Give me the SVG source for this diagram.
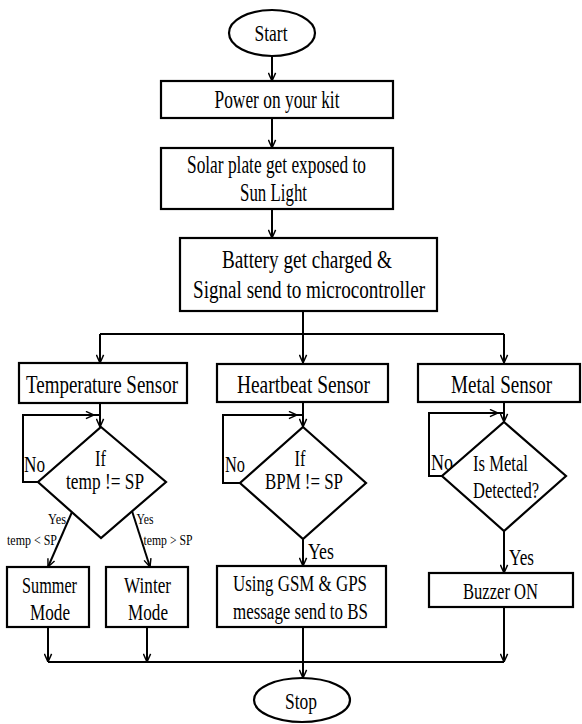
<svg xmlns="http://www.w3.org/2000/svg" width="582" height="724" viewBox="0 0 582 724">
<style>
.shape{fill:#fff;stroke:#000;stroke-width:2.2}
.con{fill:none;stroke:#000;stroke-width:2}
text{font-family:"Liberation Serif","Times New Roman",serif;fill:#000;text-anchor:middle}
.t{font-size:26px}
.m{font-size:23px}
.s{font-size:14px}
.st{text-anchor:start}
</style>
<defs>
<marker id="a" viewBox="0 0 10 10" refX="10" refY="5" markerWidth="9" markerHeight="9" markerUnits="userSpaceOnUse" orient="auto">
<path d="M1,1 L10,5 L1,9" fill="none" stroke="#000" stroke-width="1.6"/>
</marker>
</defs>
<rect width="582" height="724" fill="#fff"/>
<g id="connectors">
<path class="con" d="M272 56 V81" marker-end="url(#a)"/>
<path class="con" d="M272 118 V148" marker-end="url(#a)"/>
<path class="con" d="M272 209 V238" marker-end="url(#a)"/>
<path class="con" d="M303 311 V363" marker-end="url(#a)"/>
<path class="con" d="M100 334 H504"/>
<path class="con" d="M100 334 V363" marker-end="url(#a)"/>
<path class="con" d="M504 334 V363" marker-end="url(#a)"/>
<path class="con" d="M100 403 V427" marker-end="url(#a)"/>
<path class="con" d="M38 482 H23 V415 H94" marker-end="url(#a)"/>
<path class="con" d="M93 415 H100"/>
<path class="con" d="M72 512 L48 567" marker-end="url(#a)"/>
<path class="con" d="M132 511 L150 567" marker-end="url(#a)"/>
<path class="con" d="M303 402 V427" marker-end="url(#a)"/>
<path class="con" d="M240 483 H223 V415 H297" marker-end="url(#a)"/>
<path class="con" d="M296 415 H303"/>
<path class="con" d="M303 539 V566" marker-end="url(#a)"/>
<path class="con" d="M504 402 V422" marker-end="url(#a)"/>
<path class="con" d="M442 476 H429 V413 H498" marker-end="url(#a)"/>
<path class="con" d="M497 413 H504"/>
<path class="con" d="M504 531 V573" marker-end="url(#a)"/>
<path class="con" d="M48 627 V662" marker-end="url(#a)"/>
<path class="con" d="M147 627 V662" marker-end="url(#a)"/>
<path class="con" d="M48 662 H504"/>
<path class="con" d="M504 607 V662" marker-end="url(#a)"/>
<path class="con" d="M303 627 V678" marker-end="url(#a)"/>
<text class="s" x="57" y="524" textLength="18" lengthAdjust="spacingAndGlyphs">Yes</text>
<text class="s" x="32" y="545" textLength="50" lengthAdjust="spacingAndGlyphs">temp &lt; SP</text>
<text class="s" x="145" y="524" textLength="17" lengthAdjust="spacingAndGlyphs">Yes</text>
<text class="s" x="168" y="545" textLength="49" lengthAdjust="spacingAndGlyphs">temp &gt; SP</text>
<text class="m st" x="308" y="559" textLength="26" lengthAdjust="spacingAndGlyphs">Yes</text>
<text class="m st" x="509" y="565" textLength="25" lengthAdjust="spacingAndGlyphs">Yes</text>
<text class="m st" x="24" y="472" textLength="21" lengthAdjust="spacingAndGlyphs">No</text>
<text class="m st" x="225" y="472" textLength="20" lengthAdjust="spacingAndGlyphs">No</text>
<text class="m st" x="431" y="470" textLength="22" lengthAdjust="spacingAndGlyphs">No</text>
</g>
<g id="start">
<ellipse class="shape" cx="272" cy="33" rx="43" ry="23"/>
<text class="m" x="271" y="41" textLength="33" lengthAdjust="spacingAndGlyphs">Start</text>
</g>
<g id="power">
<rect class="shape" x="161" y="81" width="232" height="37"/>
<text class="t" x="277" y="108" textLength="125" lengthAdjust="spacingAndGlyphs">Power on your kit</text>
</g>
<g id="solar">
<rect class="shape" x="161" y="148" width="232" height="61"/>
<text class="t" x="276.5" y="173" textLength="179" lengthAdjust="spacingAndGlyphs">Solar plate get exposed to</text>
<text class="t" x="273.5" y="201" textLength="67" lengthAdjust="spacingAndGlyphs">Sun Light</text>
</g>
<g id="battery">
<rect class="shape" x="180" y="238" width="257" height="73"/>
<text class="t" x="307" y="268" textLength="170" lengthAdjust="spacingAndGlyphs">Battery get charged &amp;</text>
<text class="t" x="309" y="298" textLength="232" lengthAdjust="spacingAndGlyphs">Signal send to microcontroller</text>
</g>
<g id="temp-sensor">
<rect class="shape" x="19" y="363" width="168" height="40"/>
<text class="t" x="102" y="393" textLength="152" lengthAdjust="spacingAndGlyphs">Temperature Sensor</text>
</g>
<g id="heart-sensor">
<rect class="shape" x="217" y="364" width="171" height="38"/>
<text class="t" x="303.5" y="393" textLength="133" lengthAdjust="spacingAndGlyphs">Heartbeat Sensor</text>
</g>
<g id="metal-sensor">
<rect class="shape" x="418" y="364" width="162" height="38"/>
<text class="t" x="501.5" y="393" textLength="101" lengthAdjust="spacingAndGlyphs">Metal Sensor</text>
</g>
<g id="temp-decision">
<polygon class="shape" points="101,427 166,482 101,538 38,482"/>
<text class="m" x="100.5" y="466" textLength="11" lengthAdjust="spacingAndGlyphs">If</text>
<text class="m" x="105" y="489" textLength="78" lengthAdjust="spacingAndGlyphs">temp != SP</text>
</g>
<g id="heart-decision">
<polygon class="shape" points="303,427 366,483 303,539 240,483"/>
<text class="m" x="300" y="466" textLength="11" lengthAdjust="spacingAndGlyphs">If</text>
<text class="m" x="304" y="489" textLength="78" lengthAdjust="spacingAndGlyphs">BPM != SP</text>
</g>
<g id="metal-decision">
<polygon class="shape" points="504,422 566,476 504,531 442,476"/>
<text class="m" x="500.5" y="471" textLength="55" lengthAdjust="spacingAndGlyphs">Is Metal</text>
<text class="m" x="506" y="498" textLength="66" lengthAdjust="spacingAndGlyphs">Detected?</text>
</g>
<g id="summer">
<rect class="shape" x="7" y="567" width="82" height="60"/>
<text class="m" x="49.5" y="593" textLength="55" lengthAdjust="spacingAndGlyphs">Summer</text>
<text class="m" x="50" y="620" textLength="40" lengthAdjust="spacingAndGlyphs">Mode</text>
</g>
<g id="winter">
<rect class="shape" x="106" y="567" width="82" height="60"/>
<text class="m" x="147.5" y="593" textLength="47" lengthAdjust="spacingAndGlyphs">Winter</text>
<text class="m" x="148" y="620" textLength="40" lengthAdjust="spacingAndGlyphs">Mode</text>
</g>
<g id="gsm">
<rect class="shape" x="217" y="566" width="169" height="61"/>
<text class="m" x="300" y="591" textLength="134" lengthAdjust="spacingAndGlyphs">Using GSM &amp; GPS</text>
<text class="m" x="300.5" y="619" textLength="135" lengthAdjust="spacingAndGlyphs">message send to BS</text>
</g>
<g id="buzzer">
<rect class="shape" x="429" y="573" width="144" height="34"/>
<text class="m" x="500.5" y="599" textLength="75" lengthAdjust="spacingAndGlyphs">Buzzer ON</text>
</g>
<g id="stop">
<ellipse class="shape" cx="302" cy="700" rx="48" ry="22"/>
<text class="m" x="301" y="709" textLength="32" lengthAdjust="spacingAndGlyphs">Stop</text>
</g>
</svg>
